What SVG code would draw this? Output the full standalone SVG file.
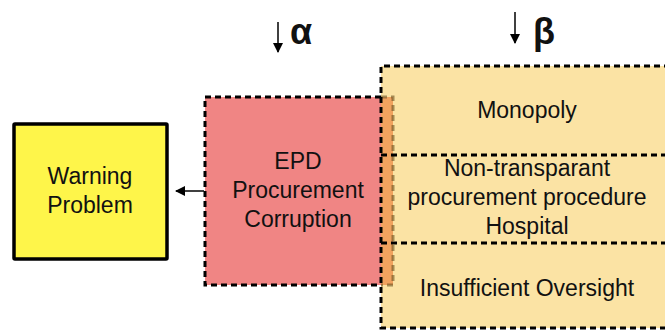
<svg xmlns="http://www.w3.org/2000/svg" width="665" height="330" viewBox="0 0 665 330">
<style>
text{font-family:"Liberation Sans",Arial,sans-serif;font-size:23px;fill:#111;text-anchor:middle}
.d{stroke:#000;stroke-width:3;stroke-dasharray:6 4;fill:none}
.g{font-weight:bold;font-size:36px;text-anchor:start}
</style>
<defs>
<marker id="ah" viewBox="0 0 10 10" refX="9" refY="5" markerWidth="10" markerHeight="10" markerUnits="userSpaceOnUse" orient="auto">
<path d="M0,0 L10,5 L0,10 z" fill="#000"/>
</marker>
</defs>
<g id="warning">
<rect x="14" y="124" width="153" height="135" fill="#FEF54A" stroke="#000" stroke-width="3.5" rx="1"/>
<text x="90" y="184">Warning</text>
<text x="90" y="213">Problem</text>
</g>
<g id="epd">
<rect x="205" y="97" width="188" height="188" fill="#F08584"/>
<path class="d" d="M381,97 H205 V285 H381"/>
<text x="298" y="169">EPD</text>
<text x="298" y="198">Procurement</text>
<text x="298" y="227">Corruption</text>
</g>
<g id="beta-box">
<rect x="381" y="66" width="290" height="262" fill="#FBE3A4"/>
<rect x="381" y="97" width="12" height="188" fill="#F0A25F"/>
<path d="M381,97 H393 V285 H381" fill="none" stroke="#6b5020" stroke-width="3" stroke-dasharray="6 4" stroke-opacity="0.6"/>
<path class="d" d="M670,66 H381 V328 H670"/>
<path class="d" d="M381,155 H670 M381,243 H670"/>
<text x="527" y="118">Monopoly</text>
<text x="527" y="176">Non-transparant</text>
<text x="527" y="205">procurement procedure</text>
<text x="527" y="234">Hospital</text>
<text x="527" y="296">Insufficient Oversight</text>
</g>
<g id="connectors">
<line x1="204" y1="191" x2="176" y2="191" stroke="#000" stroke-width="1.5" marker-end="url(#ah)"/>
<line x1="278" y1="22" x2="278" y2="52" stroke="#000" stroke-width="1.5" marker-end="url(#ah)"/>
<line x1="515" y1="12" x2="515" y2="43" stroke="#000" stroke-width="1.5" marker-end="url(#ah)"/>
</g>
<g id="labels">
<text class="g" x="290" y="44">α</text>
<text class="g" x="533" y="44">β</text>
</g>
</svg>
